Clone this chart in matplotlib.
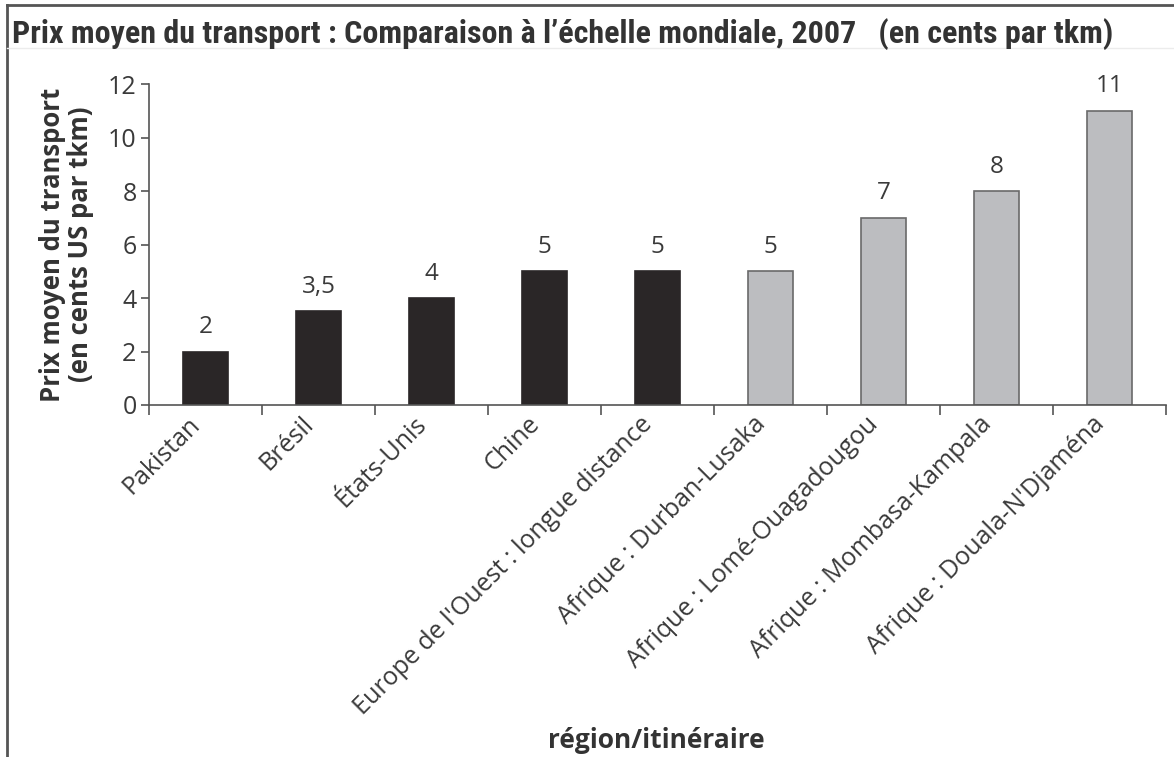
import matplotlib
matplotlib.use("Agg")
import matplotlib.pyplot as plt
from matplotlib.lines import Line2D
import numpy as np

CATEGORIES = [
    "Pakistan",
    "Brésil",
    "États-Unis",
    "Chine",
    "Europe de l'Ouest : longue distance",
    "Afrique : Durban-Lusaka",
    "Afrique : Lomé-Ouagadougou",
    "Afrique : Mombasa-Kampala",
    "Afrique : Douala-N'Djaména",
]
PRICES = [2, 3.5, 4, 5, 5, 5, 7, 8, 11]
IS_AFRICA = [False, False, False, False, False, True, True, True, True]

TITLE = "Prix moyen du transport : Comparaison à l’échelle mondiale, 2007   (en cents par tkm)"
YLABEL = "Prix moyen du transport\n(en cents US par tkm)"
XLABEL = "région/itinéraire"

DARK = "#2a2627"
GREY = "#bcbdc0"
TEXT = "#3a3a3a"

plt.rcParams["font.family"] = ["Open Sans", "DejaVu Sans"]

fig = plt.figure(figsize=(11.74, 7.57), dpi=100)
ax = fig.add_axes([0.127, 0.465, 0.866, 0.424])

x = np.arange(len(CATEGORIES))
colors = [GREY if a else DARK for a in IS_AFRICA]
edges = ["#6a6a6a" if a else DARK for a in IS_AFRICA]
bars = ax.bar(x, PRICES, width=0.4, color=colors, edgecolor=edges, linewidth=1.2)

labels = [f"{v:g}".replace(".", ",") for v in PRICES]
ax.bar_label(bars, labels=labels, padding=9, fontsize=17.5, color=TEXT)

ax.set_xlim(-0.5, len(CATEGORIES) - 0.5)
ax.set_ylim(0, 12)
ax.set_yticks(np.arange(0, 13, 2))
ax.tick_params(axis="y", labelsize=18, labelcolor=TEXT, color="#555555", length=6, width=1.2,
               pad=3)

ax.set_xticks(x)
ax.set_xticklabels(CATEGORIES, rotation=45, ha="right", va="top",
                   fontsize=18, color=TEXT)
ax.tick_params(axis="x", which="major", length=0, pad=5)
ax.set_xticks(np.arange(-0.5, len(CATEGORIES)), minor=True)
ax.tick_params(axis="x", which="minor", length=7, width=1.2, color="#555555", direction="out")

for s in ["top", "right"]:
    ax.spines[s].set_visible(False)
for s in ["left", "bottom"]:
    ax.spines[s].set_color("#555555")
    ax.spines[s].set_linewidth(1.2)

ax.set_ylabel(YLABEL, fontsize=18.5, fontweight="bold", color="#333333", labelpad=10,
              linespacing=1.05)

fig.text(0.559, 0.022, XLABEL, fontsize=19, fontweight="bold", color="#333333",
         ha="center", va="center")

fig.text(0.010, 0.955, TITLE, fontsize=23, fontweight="bold", color="#333333",
         family=["Roboto Condensed", "Roboto", "DejaVu Sans"], ha="left", va="center")

# frame around the figure (top and left edges)
fig.add_artist(Line2D([7 / 1174, 7 / 1174], [0, 1 - 5 / 757], transform=fig.transFigure,
                      color="#555555", linewidth=2))
fig.add_artist(Line2D([7 / 1174, 1], [1 - 5 / 757, 1 - 5 / 757], transform=fig.transFigure,
                      color="#555555", linewidth=2))
fig.add_artist(Line2D([7 / 1174, 1], [1 - 48 / 757, 1 - 48 / 757], transform=fig.transFigure,
                      color="#ececec", linewidth=1))

fig.savefig("out.png", dpi=100)
